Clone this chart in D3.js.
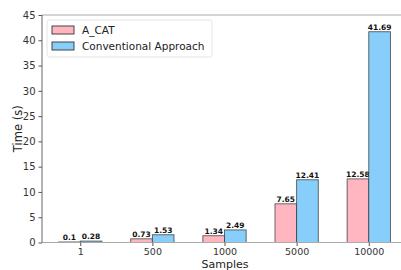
<!DOCTYPE html>
<html>
<head>
<meta charset="utf-8">
<script src="https://cdn.jsdelivr.net/npm/d3@7"></script>
<style>
  body { margin: 0; background: #fff; }
  svg { display: block; font-family: "DejaVu Sans", sans-serif; }
</style>
</head>
<body>
<svg id="chart" width="401" height="270"></svg>
<script>
const samples = ['1', '500', '1000', '5000', '10000']
const acat = [0.1, 0.73, 1.34, 7.65, 12.58]
const conventional = [0.28, 1.53, 2.49, 12.41, 41.69]
const yTicks = [0, 5, 10, 15, 20, 25, 30, 35, 40, 45]
const seriesNames = ['A_CAT', 'Conventional Approach']
const colors = ['#ffb6c1', '#87cefa']

const W = 401, H = 270
const MARGIN = { top: 15, right: -6, bottom: 27.5, left: 42 }
const cW = W - MARGIN.left - MARGIN.right
const cH = H - MARGIN.top - MARGIN.bottom

const svg = d3.select('#chart')
const g = svg.append('g').attr('transform', `translate(${MARGIN.left},${MARGIN.top})`)

// linear x in category units, like matplotlib's xlim
const x = d3.scaleLinear().domain([-0.53, 4.53]).range([0, cW])
const y = d3.scaleLinear().domain([0, 45]).range([cH, 0])
const barW = 0.3

const series = [acat, conventional]
series.forEach((vals, si) => {
  const off = si === 0 ? -barW : 0
  g.append('g').selectAll('rect').data(vals).join('rect')
    .attr('x', (d, i) => x(i + off))
    .attr('y', d => y(d))
    .attr('width', x(barW) - x(0))
    .attr('height', d => cH - y(d))
    .attr('fill', colors[si])
    .attr('stroke', '#333')
    .attr('stroke-opacity', 0.8)
    .attr('stroke-width', 0.9)
  g.append('g').selectAll('text').data(vals).join('text')
    .attr('x', (d, i) => x(i + off + barW / 2))
    .attr('y', d => y(d) - 2)
    .attr('text-anchor', 'middle')
    .attr('font-size', 7.5)
    .attr('font-weight', 'bold')
    .attr('fill', '#111')
    .text(d => d)
})

// spines
g.append('line').attr('x1', 0).attr('x2', cW).attr('y1', 0).attr('y2', 0)
  .attr('stroke', '#aaa').attr('stroke-width', 1.2)
g.append('line').attr('x1', 0).attr('x2', cW).attr('y1', cH).attr('y2', cH)
  .attr('stroke', '#aaa').attr('stroke-width', 1.2)
g.append('line').attr('x1', 0).attr('x2', 0).attr('y1', 0).attr('y2', cH)
  .attr('stroke', '#666').attr('stroke-width', 1)

// y axis
const yAxis = g.append('g').call(d3.axisLeft(y).tickValues(yTicks).tickSize(3.5).tickPadding(3))
yAxis.select('.domain').remove()
yAxis.selectAll('.tick line').attr('stroke', '#555')
yAxis.selectAll('.tick text').attr('font-size', 10).attr('fill', '#333').attr('font-family', 'DejaVu Sans')

// x axis
const xAxis = g.append('g').attr('transform', `translate(0,${cH})`)
  .call(d3.axisBottom(x).tickValues(d3.range(samples.length)).tickFormat(i => samples[i]).tickSize(3.5).tickPadding(2))
xAxis.select('.domain').remove()
xAxis.selectAll('.tick line').attr('stroke', '#555')
xAxis.selectAll('.tick text').attr('font-size', 9.5).attr('fill', '#333').attr('font-family', 'DejaVu Sans')

// axis labels
svg.append('text').attr('x', 225).attr('y', 268).attr('text-anchor', 'middle')
  .attr('font-size', 11).attr('fill', '#222').text('Samples')
svg.append('text').attr('transform', 'rotate(-90)').attr('x', -(MARGIN.top + cH / 2)).attr('y', 22)
  .attr('text-anchor', 'middle').attr('font-size', 11.5).attr('fill', '#222').text('Time (s)')

// legend
const lg = svg.append('g').attr('transform', 'translate(47,20)')
lg.append('rect').attr('width', 165).attr('height', 37).attr('rx', 2.5)
  .attr('fill', '#fff').attr('fill-opacity', 0.8).attr('stroke', '#ddd').attr('stroke-width', 0.8)
seriesNames.forEach((name, i) => {
  lg.append('rect').attr('x', 5).attr('y', 6 + i * 16).attr('width', 22).attr('height', 8)
    .attr('fill', colors[i]).attr('stroke', '#333').attr('stroke-width', 0.9)
  lg.append('text').attr('x', 35).attr('y', 14 + i * 16)
    .attr('font-size', 10.5).attr('fill', '#222').text(name)
})
</script>
</body>
</html>
